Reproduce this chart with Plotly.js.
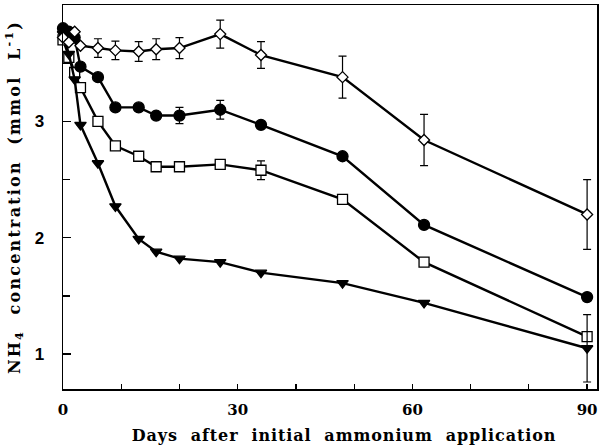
<!DOCTYPE html>
<html>
<head>
<meta charset="utf-8">
<script src="https://cdn.plot.ly/plotly-3.0.1.min.js"></script>
<style>html,body{margin:0;padding:0;background:#fff;}#chart{width:600px;height:448px;}</style>
</head>
<body>
<div id="chart"></div>
<script>
// Days after initial ammonium application
const days = [0, 1, 2, 3, 6, 9, 13, 16, 20, 27, 34, 48, 62, 90];

// NH4 concentration (mmol L-1)
const diamondVals = [3.72, 3.68, 3.77, 3.65, 3.63, 3.61, 3.60, 3.62, 3.63, 3.75, 3.57, 3.38, 2.84, 2.20];
const diamondErr  = [null, null, null, null, 0.08, 0.08, 0.085, 0.09, 0.09, 0.12, 0.115, 0.18, 0.22, 0.30];

const circleVals  = [3.80, 3.77, 3.72, 3.47, 3.38, 3.12, 3.12, 3.05, 3.05, 3.10, 2.97, 2.70, 2.11, 1.49];
const circleErr   = [null, null, null, null, null, null, null, null, 0.07, 0.08, null, null, null, null];

const squareVals  = [3.70, 3.55, 3.42, 3.29, 3.00, 2.79, 2.70, 2.61, 2.61, 2.63, 2.58, 2.33, 1.79, 1.15];
const squareErr   = [null, null, null, null, null, null, null, null, null, null, 0.08, null, null, null];

const triVals     = [3.75, 3.58, 3.36, 2.97, 2.64, 2.27, 1.99, 1.88, 1.82, 1.79, 1.70, 1.61, 1.44, 1.05];
const triErr      = [null, null, null, null, null, null, null, null, null, null, null, null, null, 0.29];

const xTicks = [0, 30, 60, 90];
const yTicks = [1, 2, 3, 4];

function series(y, err, symbol, size, fill) {
  return {
    x: days, y: y, type: 'scatter', mode: 'lines+markers',
    line: {color: '#000', width: 2.4},
    marker: {symbol: symbol, size: size, color: fill, line: {color: '#000', width: 1.3}},
    error_y: {type: 'data', array: err, visible: true, color: '#000', thickness: 1.2, width: 4},
    cliponaxis: false,
    showlegend: false
  };
}

const traces = [
  series(squareVals, squareErr, 'square', 10, '#fff'),
  series(triVals, triErr, 'triangle-down', 10, '#000'),
  series(circleVals, circleErr, 'circle', 11, '#000'),
  series(diamondVals, diamondErr, 'diamond', 8.5, '#fff')
];

const layout = {
  width: 600, height: 448,
  margin: {l: 63, r: 3, t: 5, b: 59},
  paper_bgcolor: '#fff', plot_bgcolor: '#fff',
  xaxis: {
    range: [0, 91.7], tickvals: xTicks, ticktext: xTicks.map(String),
    ticks: 'inside', ticklen: 5, tickwidth: 1.2, tickcolor: '#000',
    minor: {tickvals: [10, 20, 40, 50, 70, 80], ticks: 'inside', ticklen: 5, tickwidth: 1.2, tickcolor: '#000'},
    showline: true, linecolor: '#000', linewidth: 1.5, mirror: true,
    showgrid: false, zeroline: false,
    ticklabelstandoff: 6,
    tickfont: {family: 'DejaVu Serif', size: 15, color: '#000', weight: 'bold'},
    title: {text: 'Days  after  initial  ammonium  application', standoff: 12,
            font: {family: 'DejaVu Serif', size: 16, color: '#000', weight: 'bold'}}
  },
  yaxis: {
    range: [0.7, 4], tickvals: yTicks, ticktext: yTicks.map(String),
    ticks: 'inside', ticklen: 8, tickwidth: 1.2, tickcolor: '#000',
    minor: {tickvals: [1.5, 2.5, 3.5], ticks: 'inside', ticklen: 7, tickwidth: 1.2, tickcolor: '#000'},
    showline: true, linecolor: '#000', linewidth: 1.5, mirror: true,
    showgrid: false, zeroline: false,
    ticklabelstandoff: 14,
    tickfont: {family: 'Liberation Sans', size: 17, color: '#000', weight: 'bold'},
    title: {text: 'NH<sub>4</sub>  concentration  (mmol  L<sup>-1</sup>)', standoff: 10,
            font: {family: 'DejaVu Serif', size: 16, color: '#000', weight: 'bold'}}
  }
};

Plotly.newPlot('chart', traces, layout, {staticPlot: true}).then(function (gd) {
  const xt = gd.querySelector('.g-xtitle text');
  if (xt) {
    xt.setAttribute('letter-spacing', '0.9px');
    xt.setAttribute('transform', 'translate(14,0)');
  }
  const yt = gd.querySelector('.g-ytitle text');
  if (yt) yt.setAttribute('letter-spacing', '2.2px');
});
</script>
</body>
</html>
